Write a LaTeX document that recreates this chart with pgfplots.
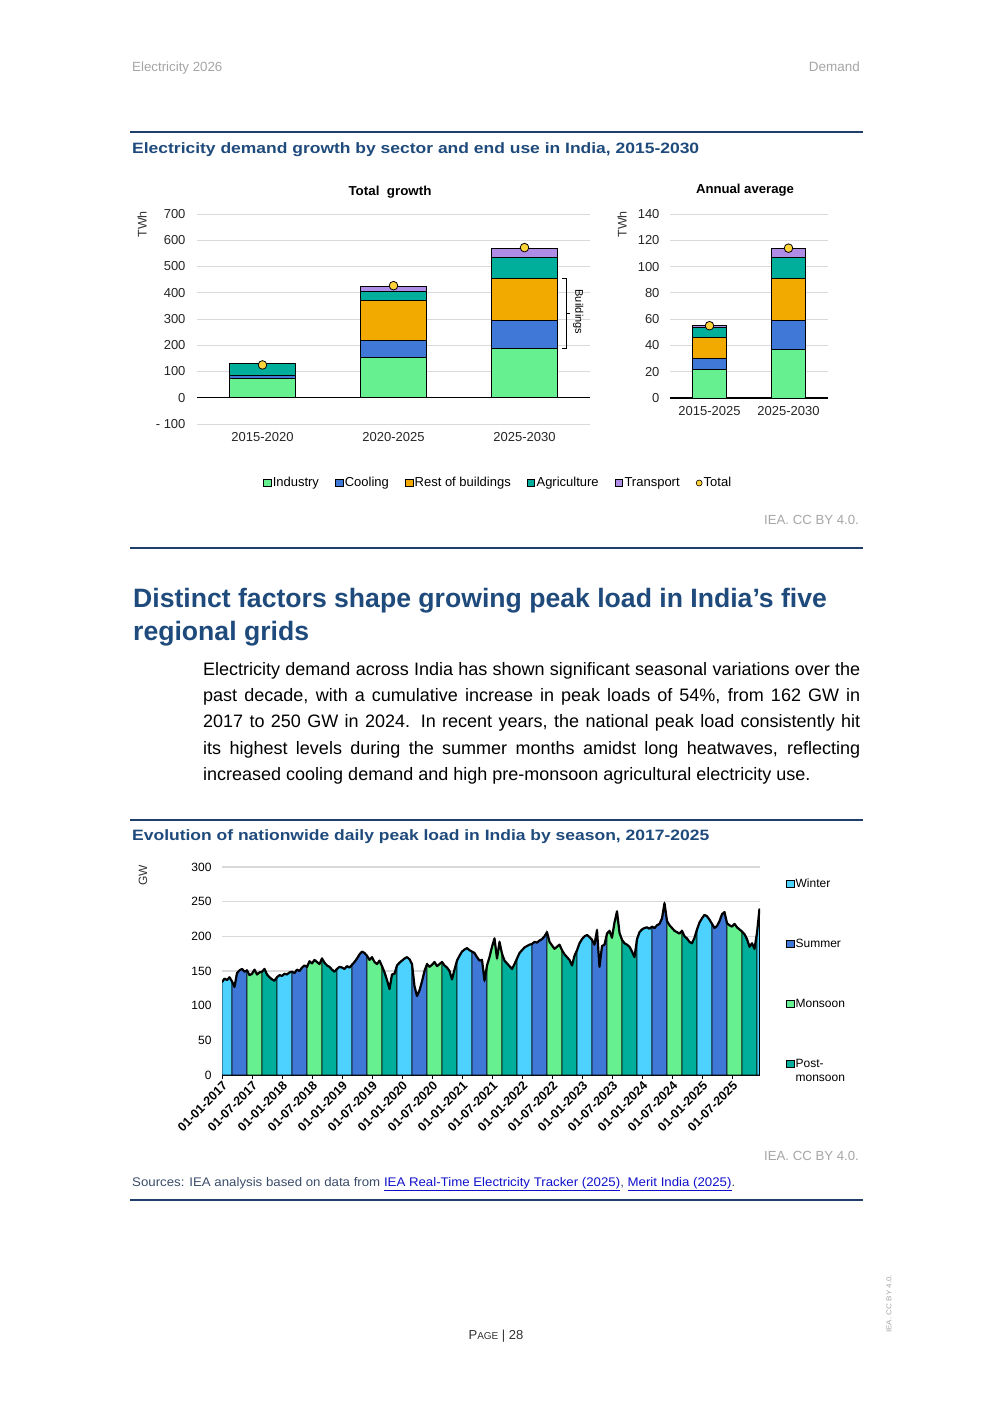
\documentclass[border=0pt]{standalone}
\usepackage{graphicx}
\usepackage{pgfplots}
\pgfplotsset{compat=1.18}
\usepackage{pgfplotstable}
\usepackage{fontspec}
\setmainfont{Liberation Sans}

\definecolor{navy}{HTML}{1F4A7C}
\definecolor{rulenavy}{HTML}{203F6B}
\definecolor{hgray}{HTML}{A6A6A6}
\definecolor{gridgray}{HTML}{D9D9D9}
\definecolor{cInd}{HTML}{66F08F}
\definecolor{cCool}{HTML}{3F78D6}
\definecolor{cRest}{HTML}{F2A900}
\definecolor{cAgri}{HTML}{00AE9C}
\definecolor{cTrans}{HTML}{AF8CE6}
\definecolor{cTot}{HTML}{FFD43B}
\definecolor{cWin}{HTML}{4DD2FF}
\definecolor{srcgray}{HTML}{3B4D6B}
\definecolor{linkblue}{HTML}{1010CC}

\newcommand\fs[2]{\fontsize{#1}{#2}\selectfont}
\newcommand\fitw[2]{\resizebox{#1}{\height}{#2}}

\pgfplotsset{
  sqleg/.style={legend image code/.code={\draw[##1, line width=0.6pt] (0pt,-3.6pt) rectangle (7.2pt,3.6pt);}},
  sqlegup/.style={legend image code/.code={\draw[##1, line width=0.6pt] (0pt,3.4pt) rectangle (7.2pt,10.6pt);}},
}

% daily peak load, read every half month (x = months since 01-01-2017, y = GW)
\pgfplotstableread{
x y
0 134
0.5 139
1 137
1.5 141
2 135
2.5 127
3 147
3.5 151
4 153
4.5 149
5 151
5.5 144
6 146
6.5 152
7 145
7.5 148
8 149
8.5 153
9 145
9.5 141
10 138
10.5 136
11 141
11.5 144
12 143
12.5 146
13 145
13.5 148
14 149
14.5 147
15 152
15.5 150
16 155
16.5 158
17 156
17.5 164
18 161
18.5 166
19 163
19.5 160
20 168
20.5 162
21 158
21.5 156
22 152
22.5 149
23 153
23.5 156
24 155
24.5 153
25 157
25.5 155
26 159
26.5 163
27 168
27.5 174
28 178
28.5 176
29 172
29.5 166
30 170
30.5 163
31 160
31.5 165
32 157
32.5 148
33 137
33.5 124
34 145
34.5 146
35 158
35.5 162
36 165
36.5 168
37 170
37.5 167
38 160
38.5 128
39 114
39.5 122
40 135
40.5 150
41 160
41.5 156
42 159
42.5 163
43 157
43.5 160
44 163
44.5 158
45 155
45.5 150
46 138
46.5 152
47 165
47.5 172
48 178
48.5 181
49 183
49.5 180
50 178
50.5 176
51 170
51.5 165
52 166
52.5 136
53 158
53.5 170
54 185
54.5 197
55 168
55.5 192
56 175
56.5 165
57 161
57.5 157
58 153
58.5 160
59 168
59.5 176
60 180
60.5 184
61 186
61.5 188
62 189
62.5 192
63 191
63.5 194
64 196
64.5 200
65 206
65.5 192
66 187
66.5 182
67 185
67.5 188
68 180
68.5 174
69 170
69.5 166
70 158
70.5 172
71 180
71.5 190
72 196
72.5 200
73 202
73.5 199
74 195
74.5 188
75 209
75.5 156
76 186
76.5 188
77 204
77.5 208
78 198
78.5 220
79 236
79.5 205
80 195
80.5 190
81 188
81.5 185
82 178
82.5 170
83 196
83.5 206
84 210
84.5 212
85 213
85.5 211
86 214
86.5 212
87 216
87.5 218
88 226
88.5 248
89 222
89.5 216
90 212
90.5 208
91 206
91.5 204
92 208
92.5 200
93 197
93.5 192
94 190
94.5 198
95 210
95.5 220
96 226
96.5 231
97 229
97.5 224
98 218
98.5 212
99 215
99.5 222
100 232
100.5 235
101 219
101.5 216
102 214
102.5 218
103 213
103.5 210
104 207
104.5 203
105 196
105.5 185
106 190
106.5 182
107 205
107.5 240
}\peak

\newcommand{\seg}[3]{\addplot[fill=#1, draw=black, line width=0.6pt, restrict x to domain=#2:#3, forget plot] table[x=x,y=y] {\peak} \closedcycle;}

\begin{document}
\begin{tikzpicture}
\begin{scope}[x=1pt,y=-1pt]
  \fill[white] (0,0) rectangle (992,1403);
  % running head
  \node[anchor=base west, inner sep=0, text=hgray] at (132,71) {\fs{13.3}{16}Electricity 2026};
  \node[anchor=base east, inner sep=0, text=hgray] at (860,71) {\fs{13.5}{16}Demand};
  % first figure frame
  \draw[rulenavy, line width=2pt] (130,132) -- (863,132);
  \node[anchor=base west, inner sep=0, text=navy] at (132,153.5) {\fitw{567pt}{\fs{15}{18}\bfseries Electricity demand growth by sector and end use in India, 2015-2030}};
  \node[anchor=base, inner sep=0] at (390,195.5) {\fitw{83pt}{\fs{13}{15}\bfseries Total\ \ growth}};
  \node[anchor=base, inner sep=0] at (745,193.5) {\fitw{98pt}{\fs{13}{15}\bfseries Annual average}};
  \node[rotate=90, anchor=east, inner sep=0, text=black!80] at (142,211) {\fs{12.5}{14}TWh};
  \node[rotate=90, anchor=east, inner sep=0, text=black!80] at (622,211) {\fs{12.5}{14}TWh};
  \node[anchor=base east, inner sep=0, text=hgray] at (859,524.5) {\fs{13.2}{16}IEA. CC BY 4.0.};
  \draw[rulenavy, line width=2pt] (130,548) -- (863,548);
  % section heading and text
  \node[anchor=base west, inner sep=0, text=navy] at (133,607.5) {\fs{26.6}{32}\bfseries Distinct factors shape growing peak load in India’s five};
  \node[anchor=base west, inner sep=0, text=navy] at (133,640.5) {\fs{26.6}{32}\bfseries regional grids};
  \node[anchor=north west, inner sep=0] at (203,662.5) {\parbox[t]{657pt}{\fs{18}{26.1}\noindent
    Electricity demand across India has shown significant seasonal variations over the\linebreak
    past decade, with a cumulative increase in peak loads of 54\%, from 162 GW in\linebreak
    2017 to 250 GW in 2024. In recent years, the national peak load consistently hit\linebreak
    its highest levels during the summer months amidst long heatwaves, reflecting\linebreak
    increased cooling demand and high pre-monsoon agricultural electricity use.}};
  % second figure frame
  \draw[rulenavy, line width=2pt] (130,820) -- (863,820);
  \node[anchor=base west, inner sep=0, text=navy] at (132,840) {\fitw{577pt}{\fs{15}{18}\bfseries Evolution of nationwide daily peak load in India by season, 2017-2025}};
  \node[rotate=90, anchor=east, inner sep=0, text=black!80] at (143,865) {\fs{12}{14}GW};
  \node[anchor=base east, inner sep=0, text=hgray] at (859,1160.5) {\fs{13.2}{16}IEA. CC BY 4.0.};
  \node[anchor=base west, inner sep=0, text=srcgray] at (132,1186) {\fitw{603pt}{\fs{12.5}{15}Sources: IEA analysis based on data from \textcolor{linkblue}{\underline{IEA Real-Time Electricity Tracker (2025)}}, \textcolor{linkblue}{\underline{Merit India (2025)}}.}};
  \draw[rulenavy, line width=1.3pt] (130,1200) -- (863,1200);
  % folio
  \node[anchor=base, inner sep=0, text=black!80] at (496,1339) {\fs{13}{15}P{\fs{10}{12}AGE} | 28};
  \node[rotate=90, anchor=west, inner sep=0, text=hgray] at (889,1333) {\fitw{58pt}{\fs{7}{8}IEA. CC BY 4.0.}};
\end{scope}

% ---------- Total growth ----------
\begin{axis}[
  at={(197pt,-424pt)}, anchor=south west, scale only axis,
  width=393pt, height=210pt,
  ybar stacked, bar width=0.5,
  xmin=-0.5, xmax=2.5, ymin=-100, ymax=700,
  xtick={0,1,2}, xticklabels={2015-2020,2020-2025,2025-2030},
  ytick={-100,0,100,200,300,400,500,600,700},
  yticklabels={- 100,0,100,200,300,400,500,600,700},
  axis line style={draw=none}, major tick length=0pt,
  ymajorgrids, major grid style={draw=gridgray, line width=0.9pt},
  extra y ticks={0}, extra y tick labels={},
  extra y tick style={grid=major, major grid style={draw=black, line width=1.1pt}},
  tick label style={font=\fs{13}{15}, text=black!85},
  xticklabel style={yshift=-5pt},
  yticklabel style={xshift=-8pt},
  every axis plot/.append style={draw=black, line width=0.9pt},
]
\addplot[fill=cInd] coordinates {(0,72) (1,152) (2,186)};
\addplot[fill=cCool] coordinates {(0,12) (1,68) (2,110)};
\addplot[fill=cRest] coordinates {(0,2) (1,152) (2,160)};
\addplot[fill=cAgri] coordinates {(0,43) (1,34) (2,79)};
\addplot[fill=cTrans] coordinates {(0,0) (1,19) (2,35)};
\end{axis}
\begin{axis}[
  at={(197pt,-424pt)}, anchor=south west, scale only axis,
  width=393pt, height=210pt, hide axis, clip=false,
  xmin=-0.5, xmax=2.5, ymin=-100, ymax=700,
  legend columns=6,
  legend style={at={(0.766,-0.281)}, anchor=center, draw=none, fill=none,
    font=\fs{13}{15}, nodes={inner sep=1.5pt},
    /tikz/every even column/.append style={column sep=15pt}},
]
\addlegendimage{sqleg, fill=cInd, draw=black}
\addlegendimage{sqleg, fill=cCool, draw=black}
\addlegendimage{sqleg, fill=cRest, draw=black}
\addlegendimage{sqleg, fill=cAgri, draw=black}
\addlegendimage{sqleg, fill=cTrans, draw=black}
\addlegendimage{only marks, mark=*, mark size=3pt, mark options={fill=cTot, draw=black, line width=0.6pt}}
\addplot[only marks, mark=*, mark size=4.3pt, mark options={fill=cTot, draw=black, line width=0.8pt}, forget plot]
  coordinates {(0,125) (1,427) (2,572)};
\draw[black, line width=1.1pt] (axis cs:2.29,456) -- (axis cs:2.32,456) -- (axis cs:2.32,186) -- (axis cs:2.29,186);
\draw[black, line width=1.1pt] (axis cs:2.32,321) -- (axis cs:2.345,321);
\node[rotate=-90, font=\fs{11}{13}] at (axis cs:2.41,327) {Buildings};
\legend{Industry,Cooling,Rest of buildings,Agriculture,Transport,Total}
\end{axis}

% ---------- Annual average ----------
\begin{axis}[
  at={(670pt,-398pt)}, anchor=south west, scale only axis,
  width=158pt, height=184pt,
  ybar stacked, bar width=0.42,
  xmin=-0.5, xmax=1.5, ymin=0, ymax=140,
  xtick={0,1}, xticklabels={2015-2025,2025-2030},
  ytick={0,20,...,140},
  axis line style={draw=none}, major tick length=0pt,
  ymajorgrids, major grid style={draw=gridgray, line width=0.9pt},
  extra y ticks={0}, extra y tick labels={},
  extra y tick style={grid=major, major grid style={draw=black, line width=1.1pt}},
  tick label style={font=\fs{13}{15}, text=black!85},
  /pgf/number format/assume math mode=true,
  xticklabel style={yshift=-4.5pt},
  yticklabel style={xshift=-7pt},
  every axis plot/.append style={draw=black, line width=0.9pt},
]
\addplot[fill=cInd] coordinates {(0,22) (1,37)};
\addplot[fill=cCool] coordinates {(0,8) (1,22)};
\addplot[fill=cRest] coordinates {(0,16) (1,32)};
\addplot[fill=cAgri] coordinates {(0,7.5) (1,16)};
\addplot[fill=cTrans] coordinates {(0,1.5) (1,7)};
\end{axis}
\begin{axis}[
  at={(670pt,-398pt)}, anchor=south west, scale only axis,
  width=158pt, height=184pt, hide axis, clip=false,
  xmin=-0.5, xmax=1.5, ymin=0, ymax=140,
]
\addplot[only marks, mark=*, mark size=4.3pt, mark options={fill=cTot, draw=black, line width=0.8pt}]
  coordinates {(0,55) (1,114)};
\end{axis}

% ---------- Daily peak load ----------
\begin{axis}[
  at={(222pt,-1075pt)}, anchor=south west, scale only axis,
  width=538pt, height=208pt,
  xmin=0, xmax=107.6, ymin=0, ymax=300,
  ytick={0,50,...,300},
  xtick={0,6,...,102},
  xticklabels={01-01-2017,01-07-2017,01-01-2018,01-07-2018,01-01-2019,01-07-2019,01-01-2020,01-07-2020,01-01-2021,01-07-2021,01-01-2022,01-07-2022,01-01-2023,01-07-2023,01-01-2024,01-07-2024,01-01-2025,01-07-2025},
  axis line style={draw=none},
  xtick pos=bottom, tick align=outside, major tick length=4pt,
  xtick style={draw=black, line width=0.9pt},
  ytick style={draw=none},
  ymajorgrids, major grid style={draw=gridgray, line width=1.6pt},
  extra y ticks={0}, extra y tick labels={},
  extra y tick style={grid=major, major grid style={draw=black, line width=1.3pt}, tick style={draw=none}},
  yticklabel style={font=\fs{12}{14}, text=black, xshift=-3pt},
  /pgf/number format/assume math mode=true,
  xticklabel style={font=\fs{12.5}{14}\bfseries, rotate=45, anchor=north east, inner sep=1pt},
  legend style={at={(1.043,0.96)}, anchor=north west, draw=none, fill=none,
    font=\fs{12}{14}, row sep=47pt, cells={anchor=west, align=left}, nodes={inner sep=1.5pt}},
]
\addlegendimage{sqleg, fill=cWin, draw=black}
\addlegendimage{sqleg, fill=cCool, draw=black}
\addlegendimage{sqleg, fill=cInd, draw=black}
\addlegendimage{sqlegup, fill=cAgri, draw=black}
\seg{cWin}{0}{2}
\seg{cCool}{2}{5}\seg{cInd}{5}{8}\seg{cAgri}{8}{11}\seg{cWin}{11}{14}
\seg{cCool}{14}{17}\seg{cInd}{17}{20}\seg{cAgri}{20}{23}\seg{cWin}{23}{26}
\seg{cCool}{26}{29}\seg{cInd}{29}{32}\seg{cAgri}{32}{35}\seg{cWin}{35}{38}
\seg{cCool}{38}{41}\seg{cInd}{41}{44}\seg{cAgri}{44}{47}\seg{cWin}{47}{50}
\seg{cCool}{50}{53}\seg{cInd}{53}{56}\seg{cAgri}{56}{59}\seg{cWin}{59}{62}
\seg{cCool}{62}{65}\seg{cInd}{65}{68}\seg{cAgri}{68}{71}\seg{cWin}{71}{74}
\seg{cCool}{74}{77}\seg{cInd}{77}{80}\seg{cAgri}{80}{83}\seg{cWin}{83}{86}
\seg{cCool}{86}{89}\seg{cInd}{89}{92}\seg{cAgri}{92}{95}\seg{cWin}{95}{98}
\seg{cCool}{98}{101}\seg{cInd}{101}{104}\seg{cAgri}{104}{107}\seg{cWin}{107}{107.5}
\addplot[black, line width=2.2pt, line join=round, forget plot] table[x=x,y=y] {\peak};
\legend{Winter,Summer,Monsoon,{Post-\\monsoon}}
\end{axis}

\pgfresetboundingbox
\path[use as bounding box] (0pt,0pt) rectangle (992pt,-1403pt);
\end{tikzpicture}
\end{document}
